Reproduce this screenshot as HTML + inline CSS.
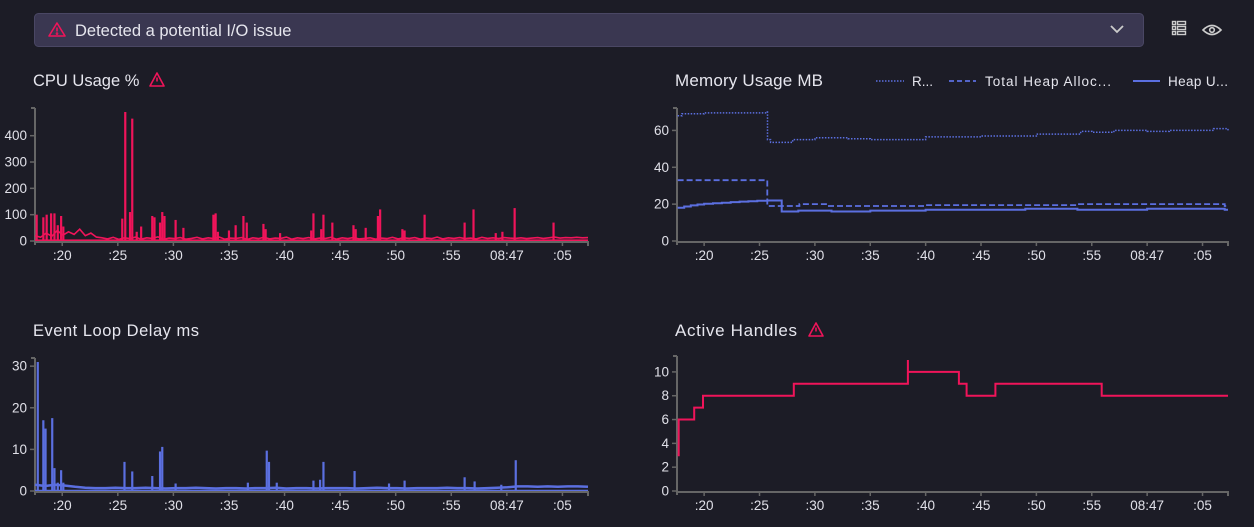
<!DOCTYPE html>
<html><head><meta charset="utf-8"><style>
body{margin:0;background:#1c1c26;width:1254px;height:527px;overflow:hidden;font-family:"Liberation Sans",sans-serif;color:#e6e6ee}
svg{position:absolute;left:0;top:0}
</style></head><body>
<svg id="s" width="1254" height="527" xmlns="http://www.w3.org/2000/svg">
 <g>
  <rect x="34.5" y="13.5" width="1109" height="33" rx="4" fill="#3a3751" stroke="#4a4764"/>
  <g fill="none" stroke="#f0145a" stroke-width="1.6"><path d="M57 23 L65 36 L49 36 Z" stroke-linejoin="round"/><line x1="57" y1="27.5" x2="57" y2="31.5"/><circle cx="57" cy="33.6" r="0.5"/></g>
  <text x="75" y="36" font-size="16.5" fill="#e6e6ee">Detected a potential I/O issue</text>
  <path d="M1111 26 L1117 32 L1123 26" fill="none" stroke="#ccc" stroke-width="1.8"/>
 </g>
 <g fill="none" stroke="#ccc" stroke-width="1.4">
  <rect x="1172.5" y="21.5" width="3" height="3"/><rect x="1177.5" y="21.5" width="8" height="3"/>
  <rect x="1172.5" y="26.5" width="3" height="3"/><rect x="1177.5" y="26.5" width="8" height="3"/>
  <rect x="1172.5" y="31.5" width="3" height="3"/><rect x="1177.5" y="31.5" width="8" height="3"/>
 </g>
 <g fill="none" stroke="#ccc" stroke-width="1.6">
  <path d="M1203 30 Q1212 21 1221 30 Q1212 39 1203 30 Z"/><circle cx="1212" cy="30" r="2.3"/>
 </g>
 <text x="33" y="86" font-size="16.5" fill="#e6e6ee">CPU Usage %</text>
 <g fill="none" stroke="#f0145a" stroke-width="1.6"><path d="M157 73 L164 86 L150 86 Z" stroke-linejoin="round"/><line x1="157" y1="77.5" x2="157" y2="81.5"/></g>
 <text x="675" y="86" font-size="17" fill="#e6e6ee" textLength="148">Memory Usage MB</text>
 <g font-size="13.5" fill="#e6e6ee">
  <g><line x1="876" y1="81" x2="904" y2="81" stroke="#5b6fe0" stroke-width="1.5" stroke-dasharray="1.5,1.5"/><text x="912" y="86">R...</text></g>
  <g><line x1="949" y1="81" x2="976" y2="81" stroke="#5b6fe0" stroke-width="1.8" stroke-dasharray="5,3"/><text x="985" y="86" textLength="126">Total Heap Alloc...</text></g>
  <g><line x1="1133" y1="81" x2="1160" y2="81" stroke="#5b6fe0" stroke-width="2"/><text x="1168" y="86" textLength="60">Heap U...</text></g>
 </g>
 <text x="33" y="336" font-size="16.5" fill="#e6e6ee" textLength="166">Event Loop Delay ms</text>
 <text x="675" y="336" font-size="17" fill="#e6e6ee" textLength="122">Active Handles</text>
 <g fill="none" stroke="#f0145a" stroke-width="1.6"><path d="M816 323 L823 336 L809 336 Z" stroke-linejoin="round"/><line x1="816" y1="327.5" x2="816" y2="331.5"/></g>
</svg>
<script>
const xTicks=[20,25,30,35,40,45,50,55,60,65];
const xTickLabels=[":20",":25",":30",":35",":40",":45",":50",":55","08:47",":05"];
const tDomain=[17.55,67.3];
const cpuTicks=[0,100,200,300,400];
const cpuSpikeT=[17.7,18.3,18.6,19.0,19.3,19.6,19.9,20.1,25.4,25.67,26.1,26.3,26.7,27.1,28.1,28.3,28.8,29.0,29.2,30.2,30.9,33.6,33.8,34.0,35.0,35.6,36.3,36.6,38.1,38.3,39.6,42.4,42.6,43.3,43.5,44.3,46.2,46.4,47.3,48.4,48.6,50.6,50.8,52.6,56.2,57.0,59.0,59.6,60.7,64.2];
const cpuSpikeV=[100,90,100,105,105,60,95,55,85,490,110,465,35,55,95,90,70,110,95,80,50,100,105,35,40,60,95,70,65,45,30,40,105,45,100,70,60,45,50,95,120,45,40,100,70,120,30,35,125,70];
const cpuBase=[20,14,30,18,40,22,35,25,45,20,30,15,12,8,14,6,12,9,15,7,12,10,16,6,11,9,13,7,10,14,8,12,9,15,7,11,10,13,6,12,9,14,8,11,10,15,7,12,9,13,8,11,10,14,7,12,9,13,8,10,12,7,11,9,14,8,12,10,13,7,11,9,15,8,12,10,13,9,11,8,14,10,12,9,13,11,10,12,9,11,13,10,12,15,11,13,12,14,12,13];
const elTicks=[0,10,20,30];
const elSpikeT=[17.8,18.3,18.5,19.1,19.3,19.6,19.9,20.1,25.6,26.3,28.1,28.8,29.0,30.2,36.7,38.4,38.6,39.3,42.6,43.2,43.5,46.3,49.4,50.8,56.2,57.1,59.5,60.8];
const elSpikeV=[31,17,15,17.5,5.5,2,5,2,7,4.7,3.6,9.5,10.6,1.8,2,9.7,7,2,2.5,2.7,7,4.8,1.8,2.5,3.3,2.3,1.5,7.4];
const elBase=[1.5,1.2,1.5,1.3,1,0.8,0.7,0.7,0.8,0.7,0.7,0.8,0.7,0.6,0.7,0.7,0.8,0.7,0.6,0.7,0.7,0.6,0.7,0.7,0.8,0.6,0.7,0.7,0.6,0.7,0.7,0.7,0.6,0.7,0.8,0.7,0.7,0.6,0.7,0.7,0.7,0.8,0.7,0.7,0.6,0.7,0.8,0.9,1.1,1.1,1.0,1.1,1.0,1.1,1.1,1.0];
const memTicks=[0,20,40,60];
const rssT=[17.6,18,20,25.7,25.72,26,28,30,33,35,40,45,50,54,55,57,60,62,66,67.3];
const rssV=[68,69,69.5,70,55,53.5,55,56,55.5,55,56.5,57,58,59.5,59,60,59.5,60,61,60];
const totT=[17.6,25.7,28.6,31,40,53.7,67,67.3];
const totV=[33,19,20,19,19.5,20,19,19];
const usedT=[17.6,18.2,18.8,19.4,20.0,20.8,21.6,22.4,23.2,24.0,24.8,25.7,27,28.5,31.5,35,40,44.5,49,53.7,60,67,67.3];
const usedV=[18,18.7,19.3,19.8,20.2,20.5,20.8,21.1,21.4,21.6,21.8,22,16,16.5,16,16.5,17,17,17.5,17,17.5,17,17];
const hTicks=[0,2,4,6,8,10];
const hT=[17.6,17.7,19.1,19.9,28.1,38.4,43.0,43.7,46.3,55.9];
const hV=[3,6,7,8,9,10,9,8,9,8];

const NS="http://www.w3.org/2000/svg";
const svg=document.getElementById('s');
function mk(tag,attrs,parent){const e=document.createElementNS(NS,tag);for(const k in attrs)e.setAttribute(k,attrs[k]);(parent||svg).appendChild(e);return e;}
function axes(p,name){
 const g=mk('g',{});
 
 
 const sx=t=>p.x0+(t-tDomain[0])/(tDomain[1]-tDomain[0])*(p.x1-p.x0);
 const sy=v=>p.y0-v/p.vmax*(p.y0-p.yTop);
 mk('line',{x1:p.x0,y1:p.yTop-4,x2:p.x0,y2:p.y0+4,stroke:'#666','stroke-width':2},g);
 mk('line',{x1:p.x0,y1:p.y0+1,x2:p.x1,y2:p.y0+1,stroke:'#666','stroke-width':2},g);
 mk('line',{x1:p.x1,y1:p.y0,x2:p.x1,y2:p.y0+5,stroke:'#666','stroke-width':2},g);
 mk('line',{x1:p.x0-4,y1:p.yTop-4,x2:p.x0,y2:p.yTop-4,stroke:'#666','stroke-width':2},g);
 xTicks.forEach((t,i)=>{
  mk('line',{x1:sx(t),y1:p.y0,x2:sx(t),y2:p.y0+5,stroke:'#666','stroke-width':1.5},g);
  const tx=mk('text',{x:sx(t),y:p.y0+19,'text-anchor':'middle','font-size':13.5,fill:'#e0e0e8'},g);
  
  
  tx.textContent=xTickLabels[i];
 });
 p.ticks.forEach(v=>{
  mk('line',{x1:p.x0-5,y1:sy(v),x2:p.x0,y2:sy(v),stroke:'#666','stroke-width':1.5},g);
  const tx=mk('text',{x:p.x0-8,y:sy(v)+4.5,'text-anchor':'end','font-size':13.5,fill:'#e0e0e8'},g);
  
  
  tx.textContent=v;
 });
 return {sx,sy};
}
function step(ts,vs,end){let d='';ts.forEach((t,i)=>{d+=(i?'H':'M')+t.toFixed(1)+(i?'V':' ')+vs[i].toFixed(1);});return d+'H'+end.toFixed(1);}
function spikes(p,sc,base,spT,spV,color,name,w){
 const n=base.length;
 const pts=base.map((v,i)=>sc.sx(tDomain[0]+(i/(n-1))*(tDomain[1]-tDomain[0])).toFixed(1)+','+sc.sy(v).toFixed(1)).join(' ');
 const bl=mk('polyline',{points:pts,fill:'none',stroke:color,'stroke-width':w});
 
 
 mk('rect',{x:p.x0,y:sc.sy(p.fillV),width:p.x1-p.x0,height:p.y0-sc.sy(p.fillV),fill:color});
 spT.forEach((t,i)=>{
  const l=mk('line',{x1:sc.sx(t),x2:sc.sx(t),y1:p.y0,y2:sc.sy(spV[i]),stroke:color,'stroke-width':2.2});
  
  
 });
}
const pc={x0:35,x1:588,y0:241,yTop:112,vmax:490,ticks:cpuTicks,fillV:6};
const sc1=axes(pc,'cpu');
spikes(pc,sc1,cpuBase,cpuSpikeT,cpuSpikeV,'#f0145a','cpu',1.6);
const pe={x0:35,x1:588,y0:491,yTop:362,vmax:31,ticks:elTicks,fillV:0.3};
const sc3=axes(pe,'event-loop');
spikes(pe,sc3,elBase,elSpikeT,elSpikeV,'#5b6fe0','event-loop',2.5);
const pm={x0:677,x1:1228,y0:241,yTop:112,vmax:70,ticks:memTicks};
const sc2=axes(pm,'memory');
function memLine(ts,vs,dash,w,name){
 const d=step(ts.map(sc2.sx),vs.map(sc2.sy),sc2.sx(tDomain[1]));
 const p=mk('path',{d:d,fill:'none',stroke:'#5b6fe0','stroke-width':w,'stroke-dasharray':dash});
 
 
}
memLine(rssT,rssV,'1.5,1.5',1.5,'rss-line');
memLine(totT,totV,'6,3',1.8,'total-heap-line');
memLine(usedT,usedV,'none',2,'heap-used-line');
const ph={x0:677,x1:1228,y0:491,yTop:360,vmax:11,ticks:hTicks};
const sc4=axes(ph,'active-handles');
const hp=mk('path',{d:step(hT.map(sc4.sx),hV.map(sc4.sy),sc4.sx(tDomain[1]))+'M'+sc4.sx(hT[5]).toFixed(1)+' '+sc4.sy(11).toFixed(1)+'V'+sc4.sy(10).toFixed(1),fill:'none',stroke:'#f0145a','stroke-width':2});


</script>
</body></html>
